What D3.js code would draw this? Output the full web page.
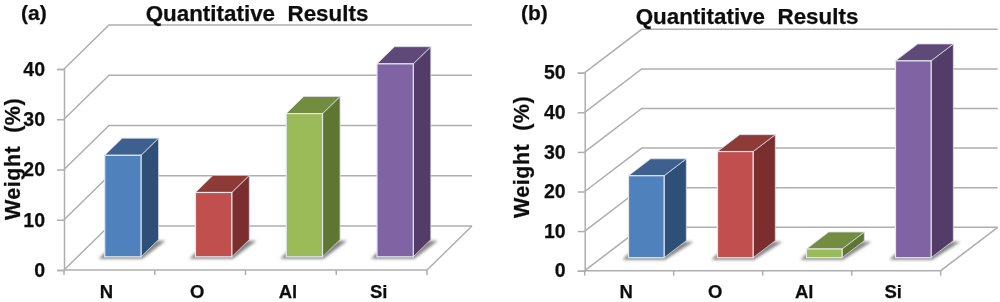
<!DOCTYPE html>
<html>
<head>
<meta charset="utf-8">
<script src="https://cdn.jsdelivr.net/npm/d3@7"></script>
<style>
html, body { margin: 0; padding: 0; background: #fff; }
svg { display: block; }
text { font-family: "Liberation Sans", Arial, sans-serif; font-weight: bold; fill: #111; stroke: #111; stroke-width: 0.25px; }
.soft { filter: url(#soften); }
</style>
</head>
<body>
<div id="chart"></div>
<script>
var categories = ["N", "O", "Al", "Si"];
var weightA = [20.2, 12.8, 28.5, 38.4];
var weightB = [20.7, 26.8, 2.2, 49.7];
var ticksA = [0, 10, 20, 30, 40];
var ticksB = [0, 10, 20, 30, 40, 50];
var frontColors = ["#4f81bd", "#c0504d", "#9bbb59", "#8064a2"];
var topColors = ["#3c6191", "#8e3b39", "#728c41", "#5f4a78"];
var sideColors = ["#2f5078", "#7a2f2d", "#5f7433", "#523e68"];
var gridColor = "#aeaeae";

var svg = d3.select("#chart").append("svg")
	.attr("width", 1000)
	.attr("height", 302);

var defs = svg.append("defs");
defs.append("filter").attr("id", "soften")
	.append("feGaussianBlur").attr("stdDeviation", 0.4);
defs.append("filter").attr("id", "blur")
	.attr("x", "-30%").attr("y", "-30%").attr("width", "160%").attr("height", "160%")
	.append("feGaussianBlur").attr("stdDeviation", 1.4);

var root = svg.append("g").attr("class", "soft");

/* one panel, depth is how far the back wall is shifted from the front axis */
function drawPanel(p) {
	var g = root.append("g");

	var x = d3.scaleBand().domain(categories).range([p.left, p.right]);
	var y = d3.scaleLinear().domain(p.domain).range([p.bottom, p.top]);

	var line = d3.line();

	/* back wall and floor */
	var grid = g.append("g")
		.attr("fill", "none")
		.attr("stroke", gridColor)
		.attr("stroke-width", 1.5);

	grid.selectAll(".wall")
		.data(p.ticks).enter()
		.append("path")
		.attr("class", "wall")
		.attr("d", d => line([
			[p.left, y(d)],
			[p.left + p.depthX, y(d) - p.depthY],
			[p.right + p.depthX, y(d) - p.depthY]
		]));

	grid.append("path")
		.attr("d", line([
			[p.left, p.bottom],
			[p.right, p.bottom],
			[p.right + p.depthX, p.bottom - p.depthY]
		]));

	/* axes */
	var yAxis = d3.axisLeft(y).tickValues(p.ticks).tickSize(7).tickPadding(12);
	var yG = g.append("g")
		.attr("transform", `translate(${p.left}, 0)`)
		.call(yAxis);
	yG.select(".domain").attr("stroke", gridColor).attr("stroke-width", 1.5);
	yG.selectAll(".tick line").attr("stroke", gridColor).attr("stroke-width", 1.5);
	yG.selectAll("text")
		.attr("fill", "#111")
		.style("font-size", "19.5px")
		.style("font-family", "Liberation Sans")
		.style("font-weight", "bold");

	var bottomTicks = x.domain().map(d => x(d)).concat([p.right]);
	g.append("g").selectAll("line")
		.data(bottomTicks).enter()
		.append("line")
		.attr("x1", d => d)
		.attr("x2", d => d)
		.attr("y1", p.bottom)
		.attr("y2", p.bottom + 5)
		.attr("stroke", gridColor)
		.attr("stroke-width", 1.5);

	g.append("g").selectAll("text")
		.data(categories).enter()
		.append("text")
		.attr("x", d => x(d) + x.bandwidth() / 2 - 3)
		.attr("y", p.labelY)
		.attr("text-anchor", "middle")
		.style("font-size", "18.5px")
		.text(d => d);

	/* bars */
	var barW = x.bandwidth() * 0.4;
	var frontShift = 0.3;
	var backShift = 0.69;
	var dx0 = p.depthX * frontShift, dy0 = p.depthY * frontShift;
	var dx = p.depthX * (backShift - frontShift), dy = p.depthY * (backShift - frontShift);

	var bars = g.append("g").selectAll("g")
		.data(p.values).enter()
		.append("g");

	function barX(i) { return x(categories[i]) + x.bandwidth() * 0.3 + dx0; }
	var y0 = p.bottom - dy0;

	bars.append("path")
		.attr("fill", "#858585")
		.attr("filter", "url(#blur)")
		.attr("d", (d, i) => line([
			[barX(i) - 6, y0 + 2],
			[barX(i) + barW + 1, y0 + 2],
			[barX(i) + barW + dx + 7, y0 - dy + 1],
			[barX(i) + barW + dx - 2, y0 - dy + 1],
			[barX(i), y0 - 4]
		]) + "Z");

	bars.append("path")
		.attr("fill", (d, i) => sideColors[i])
		.attr("stroke", "#d8dde6")
		.attr("stroke-width", 0.8)
		.attr("d", (d, i) => line([
			[barX(i) + barW, y0],
			[barX(i) + barW + dx, y0 - dy],
			[barX(i) + barW + dx, y(d) - dy0 - dy],
			[barX(i) + barW, y(d) - dy0]
		]) + "Z");

	bars.append("path")
		.attr("fill", (d, i) => topColors[i])
		.attr("stroke", "#d8dde6")
		.attr("stroke-width", 0.8)
		.attr("d", (d, i) => line([
			[barX(i), y(d) - dy0],
			[barX(i) + dx, y(d) - dy0 - dy],
			[barX(i) + barW + dx, y(d) - dy0 - dy],
			[barX(i) + barW, y(d) - dy0]
		]) + "Z");

	bars.append("rect")
		.attr("x", (d, i) => barX(i))
		.attr("y", d => y(d) - dy0)
		.attr("width", barW)
		.attr("height", d => y(0) - y(d))
		.attr("fill", (d, i) => frontColors[i])
		.attr("stroke", "#e4e8ee")
		.attr("stroke-width", 1.2);

	/* texts */
	g.append("text")
		.attr("x", p.tagX)
		.attr("y", p.tagY)
		.style("font-size", "21px")
		.text(p.tag);

	g.append("text")
		.attr("x", p.titleX)
		.attr("y", p.titleY)
		.attr("text-anchor", "middle")
		.style("white-space", "pre")
		.style("font-size", "22.4px")
		.text("Quantitative  Results");

	g.append("text")
		.attr("transform", `translate(${p.yTitleX}, ${p.yTitleY}) rotate(-90)`)
		.attr("text-anchor", "middle")
		.style("white-space", "pre")
		.style("font-size", "21.5px")
		.style("letter-spacing", "0.5px")
		.text("Weight  (%)");
}

drawPanel({
	tag: "(a)", tagX: 21, tagY: 19.5,
	titleX: 257, titleY: 21,
	yTitleX: 20, yTitleY: 159,
	labelY: 298,
	values: weightA, ticks: ticksA, domain: [0, 40],
	left: 64, right: 427, bottom: 270, top: 69,
	depthX: 45, depthY: 44
});

drawPanel({
	tag: "(b)", tagX: 521, tagY: 19.5,
	titleX: 747, titleY: 24,
	yTitleX: 529, yTitleY: 157,
	labelY: 298,
	values: weightB, ticks: ticksB, domain: [0, 50],
	left: 584.7, right: 940.7, bottom: 270.7, top: 72.7,
	depthX: 57, depthY: 43.4
});
</script>
</body>
</html>
